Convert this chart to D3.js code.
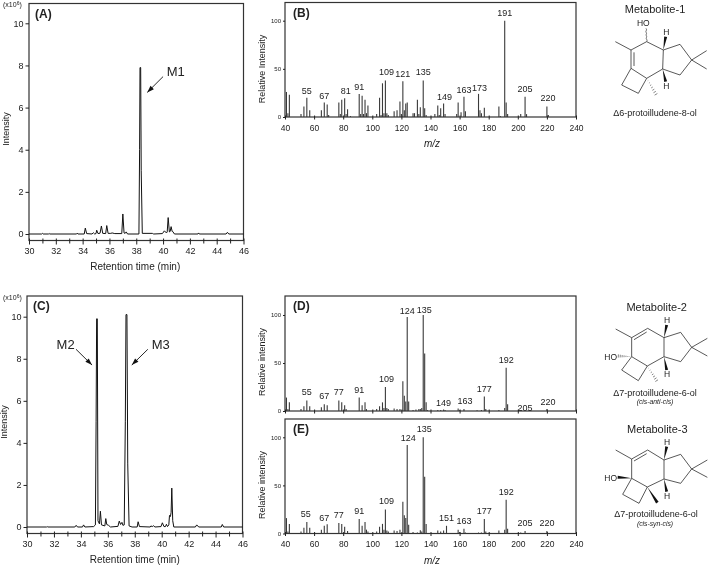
<!DOCTYPE html>
<html><head><meta charset="utf-8">
<script src="https://cdn.jsdelivr.net/npm/d3@7"></script>
<style>
html,body{margin:0;padding:0;background:#fff}
svg{display:block;filter:blur(0.35px)}
text{font-family:"Liberation Sans",Arial,sans-serif;fill:#222}
</style></head><body>
<svg id="c" width="709" height="566"></svg>
<script>
// ---- chromatogram peaks: [retention time, intensity (x10^6)]
const traceA = [[30,0],[30.95,0],[31,.03],[31.05,0],[31.45,0],[31.5,.03],[31.55,0],[33.55,0],[33.6,.04],[33.65,0],[34.12,0],[34.2,.28],[34.3,.02],[34.7,0],[34.8,.06],[34.9,0],[35,.02],[35.05,.18],[35.15,.02],[35.3,.04],[35.4,.38],[35.5,.03],[35.72,.02],[35.8,.4],[35.9,.03],[36.1,.03],[36.2,.05],[36.4,.02],[36.92,.02],[37,.95],[37.09,.05],[37.17,.03],[37.25,.1],[37.35,0],[38.2,0],[38.25,4],[38.28,7.9],[38.33,7.9],[38.37,3],[38.45,.03],[39.2,.03],[39.3,0],[39.95,.02],[40.1,.15],[40.25,.05],[40.31,.1],[40.38,.78],[40.47,.1],[40.53,.12],[40.6,.35],[40.68,.12],[40.72,.12],[40.85,0],[42.6,0],[42.65,.05],[42.7,0],[44.7,0],[44.8,.08],[44.9,0],[46,0]];
const traceC = [[30,0],[31.45,0],[31.5,.02],[31.55,0],[33.55,0],[33.65,.08],[33.75,0],[34.12,0],[34.2,.1],[34.3,0],[34.95,.02],[35.08,.1],[35.13,5],[35.17,9.9],[35.22,9.9],[35.27,.3],[35.33,.2],[35.38,.15],[35.45,.75],[35.53,.1],[35.78,.05],[35.85,.4],[35.92,.12],[36.05,.08],[36.2,0],[36.75,.03],[36.85,.28],[36.95,.12],[37.05,.22],[37.12,.08],[37.22,.1],[37.3,5],[37.35,10.1],[37.42,10.1],[37.48,3],[37.58,.05],[37.8,0],[38.18,0],[38.25,.25],[38.35,.02],[39.15,0],[39.2,.05],[39.3,.02],[39.4,.06],[39.5,0],[39.95,.02],[40.05,.2],[40.17,.02],[40.28,.02],[40.35,.13],[40.43,.02],[40.53,.1],[40.58,.55],[40.65,.5],[40.7,.7],[40.75,1.85],[40.82,.3],[40.9,0],[42.5,0],[42.6,.1],[42.75,0],[44.42,0],[44.5,.12],[44.6,0],[46,0]];

// ---- mass spectra: m/z and relative intensity
const mzB  = [41,42,43,51,53,55,57,65,67,69,70,77,78,79,81,82,83,85,91,92,93,94,95,96,97,103,105,106,107,108,109,110,111,115,117,119,120,121,122,123,124,128,129,131,132,133,135,136,137,143,145,146,147,149,150,158,159,161,163,164,173,174,175,177,187,188,191,192,193,202,205,206,220,221];
const valB = [26,4,23,3,11,20,7,7,15,13,2,15,3,18,19.5,3,8,1,24,3,22,3,18,4,12,3,20,2,35,4,38,4,2,6,7,16,3,37,7,14,15,4,4,18,3,10,38,9,2,3,12,2,9,14,3,3,15,5,21,6,24,7,4,9.5,11,1,100,15,3,3,21,3,11,2];
const mzD  = [41,42,43,51,53,55,57,65,67,69,77,79,81,82,91,93,95,96,103,105,107,108,109,110,111,115,117,119,121,122,123,124,125,128,130,132,133,134,135,136,137,138,145,147,149,150,159,160,163,172,175,177,178,187,191,192,193,202,205,220];
const valD = [14,2,9,2,5,11,5,4,7,6,11,9,6,2,14,6,9,2,2,5,9,3,25,3,2,2.5,2,2,31,16,10,98,10,1,1.5,2,2,3,100,60,9,1,1,1,1.5,1,2.5,1,2,.8,1,15,2,1,3,45,7,.5,.5,2];
const mzE  = [41,42,43,51,53,55,57,65,67,69,77,79,81,83,91,93,95,96,97,103,105,107,108,109,110,111,115,117,119,121,122,123,124,125,128,131,133,134,135,136,137,140,145,147,149,151,159,160,163,164,173,175,177,178,187,191,192,193,202,205,220];
const valE = [16,2,10,2,6,12,6,4,8,9.5,11,10,7,2.5,15,8,12,4,2,2,7,10,4,25,3,2,3,2.5,4,33,19,16,92,9,1.5,1,3.5,2,100,59,10,.5,3,2,3,8,4,1.5,5,1,1,1,15,2,3,4,35,5,1,2.5,2.5];
const labelsB = [55,67,81,91,109,121,135,149,163,173,191,205,220];
const labelsD = [55,67,77,91,109,124,135,149,163,177,192,205,220];
const labelsE = [55,67,77,91,109,124,135,151,163,177,192,205,220];
const rtTicks = d3.range(30,47,2), rtMinor = d3.range(31,46,2);
const intTicks = [0,2,4,6,8,10];
const mzTicks = d3.range(40,241,20);
const relTicks = [0,50,100];

// ---- label nudges, pixels, [dx,dy] from the default seat above each peak
const nudgeB = {55:[0,1],67:[0,1],81:[1,1],91:[0,1],109:[1,0],121:[0,1],135:[0,0],149:[1,1],163:[0,1],173:[1,2],191:[0,0],205:[0,0],220:[1,0]};
const nudgeD = {55:[0,0],67:[0,0],77:[0,0],91:[0,0],109:[1,0],124:[0,2],135:[1,3],149:[0,1],163:[1,0],177:[0,0],192:[0,0],205:[0,5],220:[1,1]};
const nudgeE = {55:[-1,0],67:[0,0],77:[0,0],91:[0,0],109:[1,0],124:[1,1],135:[1,0],151:[0,0],163:[0,0],177:[0,0],192:[0,0],205:[0,0],220:[0,0]};

// ---- molecule skeletons, atom positions in drawing units
const metabolite1 = {
  ox:570, oy:0, title:"Metabolite-1", tp:[255,27], name:"\u03946-protoilludene-8-ol", np:[255,337],
  bonds:[[[136,125],[183,150]],[[183,150],[183,205]],[[183,150],[230,125]],[[230,125],[280,150]],[[280,150],[278,207]],[[278,207],[230,235]],[[230,235],[183,205]],[[183,205],[155,255]],[[155,255],[205,280]],[[205,280],[230,235]],[[280,150],[330,133]],[[330,133],[365,180]],[[365,180],[330,225]],[[330,225],[278,207]],[[365,180],[410,152]],[[365,180],[410,207]]],
  dbl:[[[192,157],[192,198]]],
  wedge:[[[280,150],[287,110]],[[278,207],[287,245]]],
  hash:[[[230,235],[258,283]]], wavy:[[[230,125],[228,85]]],
  atoms:[["HO",220,68],["H",289,97],["H",289,258]]
};
const metabolite2 = {
  ox:570, oy:290, title:"Metabolite-2", tp:[260,50], name:"\u03947-protoilludene-6-ol", np:[255,308], sub:"(cis-anti-cis)", sp:[255,335],
  bonds:[[[137,117],[185,143]],[[185,143],[233,115]],[[233,115],[282,143]],[[282,143],[282,200]],[[282,200],[232,228]],[[232,228],[185,200]],[[185,200],[185,143]],[[185,200],[155,240]],[[155,240],[205,272]],[[205,272],[232,228]],[[282,143],[332,127]],[[332,127],[365,172]],[[365,172],[332,215]],[[332,215],[282,200]],[[365,172],[412,145]],[[365,172],[412,198]]],
  dbl:[[[192,149],[230,126]]],
  wedge:[[[282,143],[290,105]],[[282,200],[290,240]]],
  hash:[[[232,228],[260,272]],[[185,200],[145,198]]], wavy:[],
  atoms:[["HO",122,200],["H",291,90],["H",291,253]]
};
const metabolite3 = {
  ox:570, oy:415, title:"Metabolite-3", tp:[262,42], name:"\u03947-protoilludene-6-ol", np:[258,297], sub:"(cis-syn-cis)", sp:[255,325],
  bonds:[[[137,105],[185,132]],[[185,132],[233,105]],[[233,105],[282,135]],[[282,135],[282,192]],[[282,192],[232,216]],[[232,216],[185,190]],[[185,190],[185,132]],[[185,190],[158,238]],[[158,238],[207,265]],[[207,265],[232,216]],[[282,135],[332,118]],[[332,118],[365,162]],[[365,162],[332,205]],[[332,205],[282,192]],[[365,162],[412,135]],[[365,162],[412,187]]],
  dbl:[[[192,138],[230,116]]],
  wedge:[[[282,135],[290,95]],[[282,192],[290,230]],[[232,216],[262,263]],[[185,190],[143,187]]],
  hash:[], wavy:[],
  atoms:[["HO",122,190],["H",291,80],["H",291,243]]
};

const svg = d3.select("#c");
const INK = "#222";

function styleAxis(g, fs, up){
  g.selectAll("path").remove();
  g.selectAll("line").attr("stroke",INK).attr("stroke-width",1);
  if(up) g.selectAll("line").attr("y1",-up);
  g.selectAll("text").attr("font-size",fs).attr("fill",INK);
}

function chromatogram(o){
  const x = d3.scaleLinear().domain([30,46]).range([o.l,o.r]);
  const y = d3.scaleLinear().domain([0,10]).range([o.y0,o.y10]);
  const g = svg.append("g");
  g.append("rect").attr("x",o.l).attr("y",o.t).attr("width",o.r-o.l).attr("height",o.b-o.t).attr("fill","none").attr("stroke","#333").attr("stroke-width",1.2);
  const ax = g.append("g").attr("transform",`translate(0,${o.b})`).call(d3.axisBottom(x).tickValues(rtTicks).tickFormat(d3.format("d")).tickSize(4).tickPadding(3));
  styleAxis(ax,9,2);
  const mx = g.append("g").attr("transform",`translate(0,${o.b})`).call(d3.axisBottom(x).tickValues(rtMinor).tickFormat("").tickSize(3));
  styleAxis(mx,9,2);
  const ay = g.append("g").attr("transform",`translate(${o.l},0)`).call(d3.axisLeft(y).tickValues(intTicks).tickSize(3.5).tickPadding(2));
  styleAxis(ay,9);
  g.append("path").datum(o.trace)
    .attr("d",d3.line().x(d=>x(d[0])).y(d=>y(d[1])))
    .attr("fill","none").attr("stroke","#111").attr("stroke-width",1);
  g.append("text").attr("x",(o.l+o.r)/2+o.xlx).attr("y",o.b+29.5).attr("text-anchor","middle").attr("font-size",10).text("Retention time (min)");
  g.append("text").attr("transform",`translate(${o.l-20},${o.yl}) rotate(-90)`).attr("text-anchor","middle").attr("font-size",9).text("Intensity");
  g.append("text").attr("x",o.l+6).attr("y",o.t+14).attr("font-size",12).attr("font-weight","bold").text(o.tag);
  const e = g.append("text").attr("x",o.xl).attr("y",o.t+3.5).attr("font-size",7).text("(x10");
  e.append("tspan").attr("dy",-2).attr("font-size",5).text("6");
  e.append("tspan").attr("dy",2).text(")");
  o.notes.forEach(n=>{
    g.append("text").attr("x",x(n.tx)).attr("y",y(n.ty)).attr("dy",".36em").attr("text-anchor","middle").attr("font-size",13).text(n.label);
    const x1=x(n.from[0]),y1=y(n.from[1]),x2=x(n.to[0]),y2=y(n.to[1]);
    g.append("line").attr("x1",x1).attr("y1",y1).attr("x2",x2).attr("y2",y2).attr("stroke","#111").attr("stroke-width",.9);
    const a=Math.atan2(y2-y1,x2-x1),L=7,W=2.4,bx=x2-L*Math.cos(a),by=y2-L*Math.sin(a);
    g.append("path").attr("d",d3.line()([[x2,y2],[bx-W*Math.sin(a),by+W*Math.cos(a)],[bx+W*Math.sin(a),by-W*Math.cos(a)]])+"Z").attr("fill","#111");
  });
}

function spectrum(o){
  const x = d3.scaleLinear().domain([40,240]).range([285,576]);
  const y = d3.scaleLinear().domain([0,100]).range([o.y0,o.y100]);
  const g = svg.append("g");
  g.append("rect").attr("x",285).attr("y",o.t).attr("width",291).attr("height",o.y0-o.t).attr("fill","none").attr("stroke","#333").attr("stroke-width",1.2);
  const ax = g.append("g").attr("transform",`translate(0,${o.y0})`).call(d3.axisBottom(x).tickValues(mzTicks).tickFormat(o.showX?d3.format("d"):"").tickSize(2.5).tickPadding(5));
  styleAxis(ax,8.5,1.5);
  const ay = g.append("g").attr("transform",`translate(285,0)`).call(d3.axisLeft(y).tickValues(relTicks).tickSize(2).tickPadding(2));
  styleAxis(ay,6);
  g.append("g").selectAll("line").data(o.mz).join("line")
    .attr("x1",d=>x(d)).attr("x2",d=>x(d)).attr("y1",o.y0)
    .attr("y2",(d,i)=>y(o.val[i])).attr("stroke","#3a3a3a").attr("stroke-width",1.1);
  g.append("g").selectAll("text").data(o.labels).join("text")
    .attr("x",d=>x(d)+o.nudge[d][0])
    .attr("y",d=>y(o.val[o.mz.indexOf(d)])-5+o.nudge[d][1])
    .attr("text-anchor","middle").attr("font-size",9).text(d=>d);
  g.append("text").attr("transform",`translate(265,${o.yl}) rotate(-90)`).attr("text-anchor","middle").attr("font-size",9).text(o.ylab);
  g.append("text").attr("x",293).attr("y",o.t+14).attr("font-size",12).attr("font-weight","bold").text(o.tag);
  if(o.showX){
    g.append("text").attr("x",432).attr("y",o.y0+30).attr("text-anchor","middle").attr("font-size",10).attr("font-style","italic").text("m/z");
  }
}

function molecule(m){
  const sx = d3.scaleLinear().domain([0,3]).range([m.ox,m.ox+1]);
  const sy = d3.scaleLinear().domain([0,3]).range([m.oy,m.oy+1]);
  const g = svg.append("g");
  const seg = (a,b)=>g.append("line").attr("x1",sx(a[0])).attr("y1",sy(a[1])).attr("x2",sx(b[0])).attr("y2",sy(b[1])).attr("stroke","#222").attr("stroke-width",.75);
  m.bonds.forEach(b=>seg(b[0],b[1]));
  m.dbl.forEach(b=>seg(b[0],b[1]));
  m.wedge.forEach(([a,b])=>{
    const X1=sx(a[0]),Y1=sy(a[1]),X2=sx(b[0]),Y2=sy(b[1]),t=Math.atan2(Y2-Y1,X2-X1),W=1.5;
    g.append("path").attr("d",d3.line()([[X1,Y1],[X2+W*Math.sin(t),Y2-W*Math.cos(t)],[X2-W*Math.sin(t),Y2+W*Math.cos(t)]])+"Z").attr("fill","#111");
  });
  m.hash.forEach(([a,b])=>{
    const X1=sx(a[0]),Y1=sy(a[1]),X2=sx(b[0]),Y2=sy(b[1]),t=Math.atan2(Y2-Y1,X2-X1);
    d3.range(1,8).forEach(i=>{
      const f=i/7,cx=X1+(X2-X1)*f,cy=Y1+(Y2-Y1)*f,W=1.6*f;
      g.append("line").attr("x1",cx+W*Math.sin(t)).attr("y1",cy-W*Math.cos(t)).attr("x2",cx-W*Math.sin(t)).attr("y2",cy+W*Math.cos(t)).attr("stroke","#333").attr("stroke-width",.6);
    });
  });
  m.wavy.forEach(([a,b])=>{
    const pts=d3.range(0,9).map(i=>{const f=i/8;return [sx(a[0]+(b[0]-a[0])*f)+(i%2?1:-1)*(i&&i<8?.9:0),sy(a[1]+(b[1]-a[1])*f)];});
    g.append("path").attr("d",d3.line().curve(d3.curveBasis)(pts)).attr("fill","none").attr("stroke","#333").attr("stroke-width",.7);
  });
  m.atoms.forEach(a=>g.append("text").attr("x",sx(a[1])).attr("y",sy(a[2])).attr("dy",".36em").attr("text-anchor","middle").attr("font-size",8.5).text(a[0]));
  g.append("text").attr("x",sx(m.tp[0])).attr("y",sy(m.tp[1])).attr("dy",".36em").attr("text-anchor","middle").attr("font-size",11).text(m.title);
  g.append("text").attr("x",sx(m.np[0])).attr("y",sy(m.np[1])).attr("dy",".36em").attr("text-anchor","middle").attr("font-size",9).text(m.name);
  if(m.sub) g.append("text").attr("x",sx(m.sp[0])).attr("y",sy(m.sp[1])).attr("dy",".36em").attr("text-anchor","middle").attr("font-size",6.8).attr("font-style","italic").text(m.sub);
}

chromatogram({trace:traceA,l:29,r:243.5,t:3.5,b:240.5,y0:234,y10:23.3,yl:129,xl:3,xlx:-1,tag:"(A)",
  notes:[{label:"M1",tx:40.94,ty:7.7,from:[40,7.47],to:[38.82,6.72]}]});
chromatogram({trace:traceC,l:27,r:242.5,t:296,b:533.5,y0:527,y10:316.7,yl:422,xl:3,xlx:0,tag:"(C)",
  notes:[{label:"M2",tx:32.87,ty:8.69,from:[33.64,8.45],to:[34.83,7.7]},{label:"M3",tx:39.93,ty:8.69,from:[38.97,8.45],to:[37.78,7.7]}]});
spectrum({mz:mzB,val:valB,labels:labelsB,nudge:nudgeB,t:2.5,y0:117,y100:20.7,yl:69,ylab:"Relative Intensity",tag:"(B)",showX:true});
spectrum({mz:mzD,val:valD,labels:labelsD,nudge:nudgeD,t:296,y0:411,y100:315,yl:362,ylab:"Relative intensity",tag:"(D)",showX:false});
spectrum({mz:mzE,val:valE,labels:labelsE,nudge:nudgeE,t:419,y0:533.5,y100:437.3,yl:485,ylab:"Relative intensity",tag:"(E)",showX:true});
[metabolite1,metabolite2,metabolite3].forEach(molecule);
</script></body></html>
